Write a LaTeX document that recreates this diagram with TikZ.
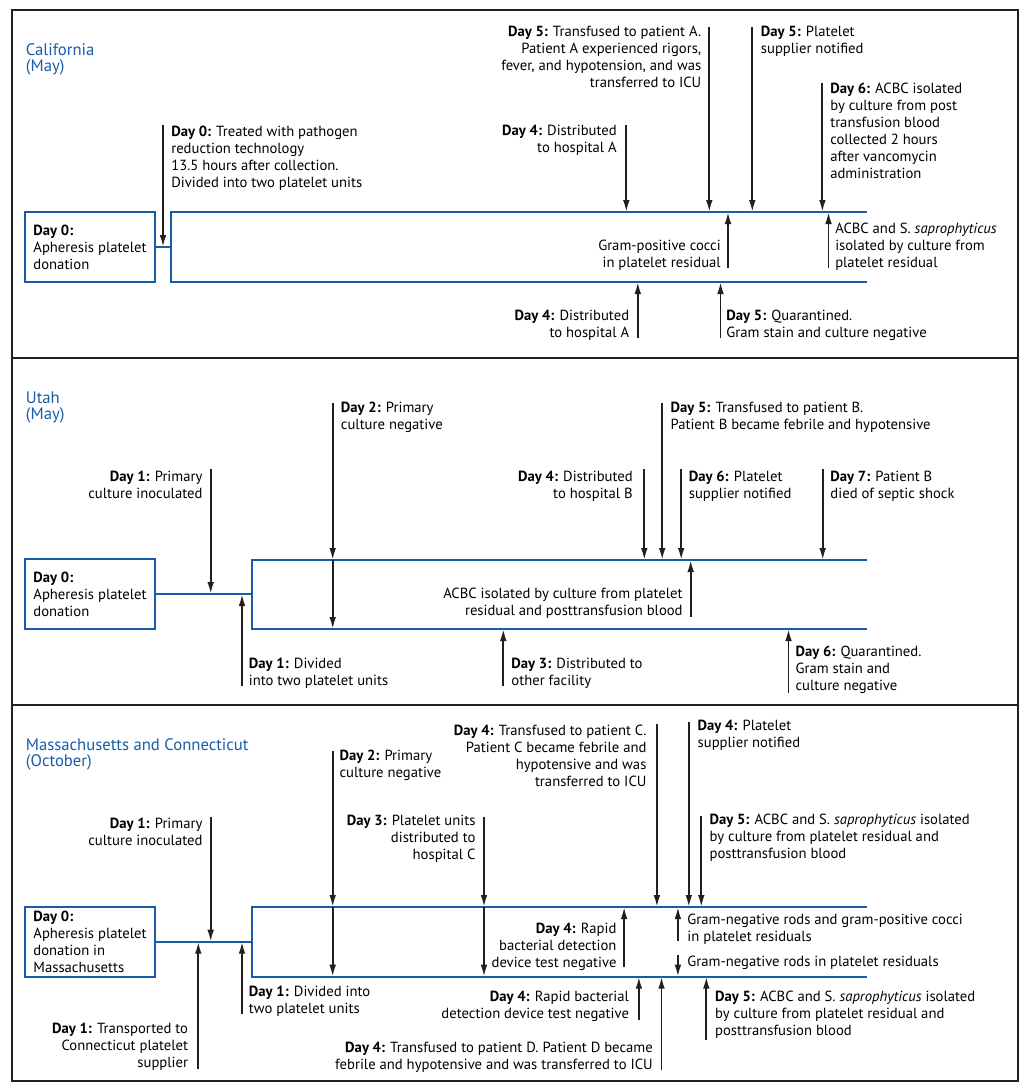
\documentclass[tikz,border=0pt]{standalone}
\usepackage{fontspec}
\setmainfont{PT Sans}
\usetikzlibrary{positioning,arrows.meta}
\definecolor{cdcblue}{RGB}{24,92,168}
\definecolor{inkgray}{RGB}{35,31,32}

\begin{document}
\begin{tikzpicture}[x=0.75pt,y=-0.75pt,font=\fontsize{11}{12.75}\selectfont]
	% 定义具体样式
	\tikzstyle{donor} = [rectangle, draw=cdcblue, line width=1.6pt, minimum width=97.5pt, minimum height=52.5pt, inner sep=0pt, align=left]	% 定义献血框
	\tikzstyle{noteL} = [anchor=north west, align=left, inner sep=0pt]	% 左对齐说明
	\tikzstyle{noteR} = [anchor=north east, align=right, inner sep=0pt]	% 右对齐说明
	\tikzstyle{region} = [anchor=north west, align=left, inner sep=0pt, text=cdcblue, font=\fontsize{12.5}{12.5}\selectfont]	% 定义地区标题
	\tikzstyle{track} = [draw=cdcblue, line width=1.5pt]	% 定义血小板单位线
	\tikzstyle{arrow} = [draw=inkgray, line width=1.4pt, -{Latex[length=9pt,width=5pt]}]	% 定义箭头
	\useasboundingbox (0,0) rectangle (1031,1088);

	% 外框
	\draw [inkgray, line width=1.8pt] (12,10) rectangle (1018,1081);
	\draw [inkgray, line width=1.8pt] (12,358) -- (1018,358);
	\draw [inkgray, line width=1.8pt] (12,705) -- (1018,705);

	% California
	\node (ca) [region] at (25.7,43) {California\\(May)};
	\node (don1) [donor] at (90,247) {\textbf{Day 0:}\\Apheresis platelet\\donation};
	\coordinate (up1) at (171,212);
	\coordinate (lo1) at (171,282);
	\coordinate (upe1) at (867,212);
	\coordinate (loe1) at (867,282);
	\draw [track](don1.east) -- (up1 |- don1.east);
	\draw [track](upe1) -- (up1) -- (lo1) -- (loe1);

	\node (ca1) [noteL] at (171,125.5) {\textbf{Day 0:} Treated with pathogen\\reduction technology\\13.5 hours after collection.\\Divided into two platelet units};
	\node (ca2) [noteR] at (617,124.5) {\textbf{Day 4:} Distributed\\to hospital A};
	\node (ca3) [noteR] at (701.5,26.2) {\textbf{Day 5:} Transfused to patient A.\\Patient A experienced rigors,\\fever, and hypotension, and was\\transferred to ICU};
	\node (ca4) [noteL] at (760.7,26.2) {\textbf{Day 5:} Platelet\\supplier notified};
	\node (ca5) [noteL] at (830,82.8) {\textbf{Day 6:} ACBC isolated\\by culture from post\\transfusion blood\\collected 2 hours\\after vancomycin\\administration};
	\node (ca6) [noteR] at (721,240.2) {Gram-positive cocci\\in platelet residual};
	\node (ca7) [noteL] at (835,222.8) {ACBC and S. \textit{saprophyticus}\\isolated by culture from\\platelet residual};
	\node (ca8) [noteR] at (629.4,310.2) {\textbf{Day 4:} Distributed\\to hospital A};
	\node (ca9) [noteL] at (726.2,310.2) {\textbf{Day 5:} Quarantined.\\Gram stain and culture negative};

	\coordinate (ca1t) at (163,125);
	\coordinate (ca2t) at (626.3,125);
	\coordinate (ca3t) at (709.3,27);
	\coordinate (ca4t) at (752.3,27);
	\coordinate (ca5t) at (822.4,83);
	\coordinate (ca6t) at (728,268);
	\coordinate (ca7t) at (828.5,268);
	\coordinate (ca8t) at (637.8,338);
	\coordinate (ca9t) at (720.5,338);
	\draw [arrow](ca1t) -- (ca1t |- don1.east);
	\draw [arrow](ca2t) -- (ca2t |- up1);
	\draw [arrow](ca3t) -- (ca3t |- up1);
	\draw [arrow](ca4t) -- (ca4t |- up1);
	\draw [arrow](ca5t) -- (ca5t |- up1);
	\draw [arrow](ca6t) -- (ca6t |- up1);
	\draw [arrow](ca7t) -- (ca7t |- up1);
	\draw [arrow](ca8t) -- (ca8t |- lo1);
	\draw [arrow](ca9t) -- (ca9t |- lo1);

	% Utah
	\node (ut) [region] at (25.7,391.3) {Utah\\(May)};
	\node (don2) [donor] at (90,594) {\textbf{Day 0:}\\Apheresis platelet\\donation};
	\coordinate (up2) at (252,560);
	\coordinate (lo2) at (252,629);
	\coordinate (upe2) at (867,560);
	\coordinate (loe2) at (867,629);
	\draw [track](don2.east) -- (up2 |- don2.east);
	\draw [track](upe2) -- (up2) -- (lo2) -- (loe2);

	\node (ut1) [noteR] at (202.7,470.5) {\textbf{Day 1:} Primary\\culture inoculated};
	\node (ut2) [noteL] at (248.7,657.8) {\textbf{Day 1:} Divided\\into two platelet units};
	\node (ut3) [noteL] at (340.7,401.8) {\textbf{Day 2:} Primary\\culture negative};
	\node (ut4) [noteR] at (682.9,587.8) {ACBC isolated by culture from platelet\\residual and posttransfusion blood};
	\node (ut5) [noteL] at (511.2,657.8) {\textbf{Day 3:} Distributed to\\other facility};
	\node (ut6) [noteR] at (633,470.5) {\textbf{Day 4:} Distributed\\to hospital B};
	\node (ut7) [noteL] at (670.3,401.8) {\textbf{Day 5:} Transfused to patient B.\\Patient B became febrile and hypotensive};
	\node (ut8) [noteL] at (688.6,470.5) {\textbf{Day 6:} Platelet\\supplier notified};
	\node (ut9) [noteL] at (830.2,470.5) {\textbf{Day 7:} Patient B\\died of septic shock};
	\node (ut10) [noteL] at (795.3,646.2) {\textbf{Day 6:} Quarantined.\\Gram stain and\\culture negative};

	\coordinate (ut1t) at (210.7,469);
	\coordinate (ut2t) at (242,686);
	\coordinate (ut3t) at (332.7,403);
	\coordinate (ut4t) at (690.7,616.7);
	\coordinate (ut5t) at (503.3,686);
	\coordinate (ut6t) at (644.3,469);
	\coordinate (ut7t) at (662.2,403);
	\coordinate (ut8t) at (681.2,469);
	\coordinate (ut9t) at (822.7,469);
	\coordinate (ut10t) at (788.5,693);
	\draw [arrow](ut1t) -- (ut1t |- don2.east);
	\draw [arrow](ut2t) -- (ut2t |- don2.east);
	\draw [arrow](ut3t) -- (ut3t |- up2);
	\draw [arrow](ut3t |- up2) -- (ut3t |- lo2);
	\draw [arrow](ut4t) -- (ut4t |- up2);
	\draw [arrow](ut5t) -- (ut5t |- lo2);
	\draw [arrow](ut6t) -- (ut6t |- up2);
	\draw [arrow](ut7t) -- (ut7t |- up2);
	\draw [arrow](ut8t) -- (ut8t |- up2);
	\draw [arrow](ut9t) -- (ut9t |- up2);
	\draw [arrow](ut10t) -- (ut10t |- lo2);

	% Massachusetts and Connecticut
	\node (ma) [region] at (25.7,738) {Massachusetts and Connecticut\\(October)};
	\node (don3) [donor] at (90,941.7) {\textbf{Day 0:}\\Apheresis platelet\\donation in\\Massachusetts};
	\coordinate (up3) at (252,907);
	\coordinate (lo3) at (252,976.7);
	\coordinate (upe3) at (867,907);
	\coordinate (loe3) at (867,976.7);
	\draw [track](don3.east) -- (up3 |- don3.east);
	\draw [track](upe3) -- (up3) -- (lo3) -- (loe3);

	\node (ma1) [noteR] at (202.7,817.8) {\textbf{Day 1:} Primary\\culture inoculated};
	\node (ma2) [noteR] at (188.3,1022.8) {\textbf{Day 1:} Transported to\\Connecticut platelet\\supplier};
	\node (ma3) [noteL] at (248.7,986.2) {\textbf{Day 1:} Divided into\\two platelet units};
	\node (ma4) [noteL] at (339.3,749.5) {\textbf{Day 2:} Primary\\culture negative};
	\node (ma5) [noteR] at (475.7,814.5) {\textbf{Day 3:} Platelet units\\distributed to\\hospital C};
	\node (ma6) [noteR] at (646.7,724.5) {\textbf{Day 4:} Transfused to patient C.\\Patient C became febrile and\\hypotensive and was\\transferred to ICU};
	\node (ma7) [noteL] at (697.4,720.2) {\textbf{Day 4:} Platelet\\supplier notified};
	\node (ma8) [noteL] at (709.4,813.8) {\textbf{Day 5:} ACBC and S. \textit{saprophyticus} isolated\\by culture from platelet residual and\\posttransfusion blood};
	\node (ma9) [noteR] at (616.7,922.8) {\textbf{Day 4:} Rapid\\bacterial detection\\device test negative};
	\node (ma10) [noteL] at (687.2,913.5) {Gram-negative rods and gram-positive cocci\\in platelet residuals};
	\node (ma11) [noteL] at (687.2,956.2) {Gram-negative rods in platelet residuals};
	\node (ma12) [noteR] at (629.2,991.2) {\textbf{Day 4:} Rapid bacterial\\detection device test negative};
	\node (ma13) [noteR] at (653,1041.8) {\textbf{Day 4:} Transfused to patient D. Patient D became\\febrile and hypotensive and was transferred to ICU};
	\node (ma14) [noteL] at (714.9,991.2) {\textbf{Day 5:} ACBC and S. \textit{saprophyticus} isolated\\by culture from platelet residual and\\posttransfusion blood};

	\coordinate (ma1t) at (210.7,816.7);
	\coordinate (ma2t) at (198.3,1069);
	\coordinate (ma3t) at (242,1014);
	\coordinate (ma4t) at (332.7,750.7);
	\coordinate (ma5t) at (484,816.7);
	\coordinate (ma6t) at (656.9,724);
	\coordinate (ma7t) at (688.8,721.7);
	\coordinate (ma8t) at (701.3,816);
	\coordinate (ma9t) at (624.1,966.7);
	\coordinate (ma10t) at (677.9,940.7);
	\coordinate (ma11t) at (677.9,955);
	\coordinate (ma12t) at (638.9,1020);
	\coordinate (ma13t) at (661.5,1070);
	\coordinate (ma14t) at (706.3,1040);
	\draw [arrow](ma1t) -- (ma1t |- don3.east);
	\draw [arrow](ma2t) -- (ma2t |- don3.east);
	\draw [arrow](ma3t) -- (ma3t |- don3.east);
	\draw [arrow](ma4t) -- (ma4t |- up3);
	\draw [arrow](ma4t |- up3) -- (ma4t |- lo3);
	\draw [arrow](ma5t) -- (ma5t |- up3);
	\draw [arrow](ma5t |- up3) -- (ma5t |- lo3);
	\draw [arrow](ma6t) -- (ma6t |- up3);
	\draw [arrow](ma7t) -- (ma7t |- up3);
	\draw [arrow](ma8t) -- (ma8t |- up3);
	\draw [arrow](ma9t) -- (ma9t |- up3);
	\draw [arrow](ma10t) -- (ma10t |- up3);
	\draw [arrow](ma11t) -- (ma11t |- lo3);
	\draw [arrow](ma12t) -- (ma12t |- lo3);
	\draw [arrow](ma13t) -- (ma13t |- lo3);
	\draw [arrow](ma14t) -- (ma14t |- lo3);
\end{tikzpicture}
\end{document}
